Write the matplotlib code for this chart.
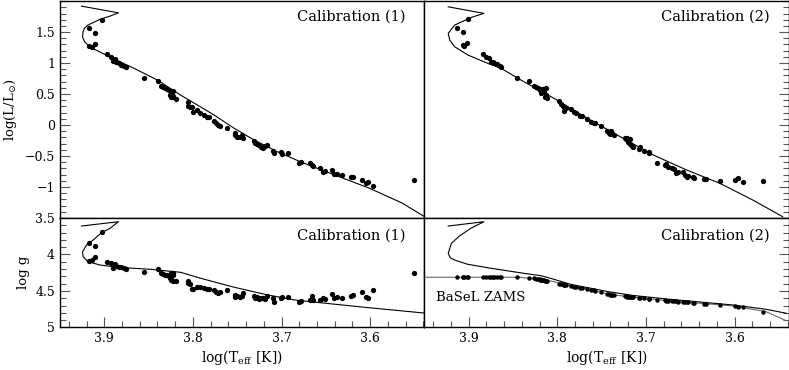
import matplotlib
matplotlib.use('Agg')
import matplotlib.pyplot as plt
import numpy as np

plt.rcParams['font.family'] = ['DejaVu Serif']
plt.rcParams['mathtext.fontset'] = 'dejavuserif'

# --- stars, calibration (1) ---
teff_c1 = [3.917, 3.911, 3.903, 3.917, 3.914, 3.911, 3.897, 3.892, 3.890, 3.888,
           3.887, 3.883, 3.881, 3.878, 3.875, 3.855, 3.839, 3.836, 3.834, 3.831,
           3.829, 3.827, 3.825, 3.825, 3.826, 3.823, 3.822, 3.822, 3.825, 3.819,
           3.806, 3.805, 3.803, 3.801, 3.800, 3.795, 3.792, 3.788, 3.784, 3.782,
           3.776, 3.774, 3.772, 3.769, 3.761, 3.753, 3.752, 3.750, 3.747, 3.745,
           3.744, 3.731, 3.730, 3.728, 3.725, 3.723, 3.721, 3.719, 3.717, 3.710,
           3.709, 3.701, 3.700, 3.693, 3.680, 3.678, 3.668, 3.666, 3.664, 3.657,
           3.653, 3.651, 3.643, 3.641, 3.638, 3.632, 3.622, 3.619, 3.609, 3.605,
           3.603, 3.597, 3.551]
logl_c1 = [1.560, 1.479, 1.694, 1.274, 1.263, 1.302, 1.140, 1.092, 1.032, 1.060,
           1.021, 0.995, 0.968, 0.956, 0.940, 0.763, 0.710, 0.629, 0.608, 0.592,
           0.576, 0.565, 0.537, 0.511, 0.484, 0.468, 0.553, 0.456, 0.447, 0.415,
           0.376, 0.306, 0.295, 0.285, 0.215, 0.242, 0.189, 0.161, 0.124, 0.124,
           0.069, 0.037, 0.000, -0.016, -0.053, -0.124, -0.161, -0.189, -0.198, -0.161,
           -0.215, -0.253, -0.285, -0.306, -0.323, -0.350, -0.376, -0.339, -0.323, -0.415,
           -0.456, -0.431, -0.468, -0.456, -0.608, -0.592, -0.618, -0.645, -0.661, -0.698,
           -0.753, -0.737, -0.726, -0.790, -0.790, -0.806, -0.834, -0.834, -0.887, -0.940,
           -0.915, -0.979, -0.892]
logg_c1 = [3.847, 3.884, 3.688, 4.085, 4.075, 4.030, 4.099, 4.121, 4.189, 4.130,
           4.158, 4.167, 4.175, 4.189, 4.199, 4.236, 4.203, 4.249, 4.267, 4.281,
           4.281, 4.290, 4.304, 4.349, 4.326, 4.359, 4.258, 4.281, 4.258, 4.367,
           4.367, 4.389, 4.404, 4.473, 4.473, 4.441, 4.449, 4.463, 4.473, 4.477,
           4.486, 4.510, 4.523, 4.510, 4.486, 4.555, 4.586, 4.568, 4.586, 4.568,
           4.532, 4.568, 4.600, 4.586, 4.614, 4.600, 4.591, 4.614, 4.568, 4.600,
           4.646, 4.600, 4.586, 4.586, 4.646, 4.633, 4.623, 4.568, 4.623, 4.623,
           4.600, 4.614, 4.541, 4.600, 4.586, 4.600, 4.568, 4.555, 4.510, 4.586,
           4.600, 4.486, 4.258]

# --- stars, calibration (2) ---
teff_c2 = [3.913, 3.906, 3.901, 3.906, 3.905, 3.902, 3.884, 3.880, 3.877, 3.875,
           3.873, 3.871, 3.868, 3.865, 3.863, 3.845, 3.832, 3.826, 3.824, 3.822,
           3.820, 3.819, 3.817, 3.818, 3.815, 3.813, 3.814, 3.811, 3.816, 3.813,
           3.798, 3.796, 3.794, 3.792, 3.792, 3.790, 3.785, 3.781, 3.779, 3.774,
           3.772, 3.766, 3.762, 3.759, 3.757, 3.751, 3.744, 3.742, 3.740, 3.738,
           3.736, 3.739, 3.724, 3.722, 3.720, 3.718, 3.716, 3.714, 3.718, 3.721,
           3.708, 3.707, 3.702, 3.697, 3.696, 3.688, 3.678, 3.677, 3.675, 3.670,
           3.668, 3.666, 3.664, 3.658, 3.656, 3.654, 3.652, 3.647, 3.646, 3.635,
           3.632, 3.616, 3.600, 3.596, 3.590, 3.568]
logl_c2 = [1.569, 1.495, 1.710, 1.290, 1.279, 1.318, 1.145, 1.092, 1.076, 1.021,
           1.021, 0.995, 0.984, 0.952, 0.940, 0.763, 0.715, 0.629, 0.608, 0.592,
           0.576, 0.565, 0.553, 0.511, 0.537, 0.484, 0.456, 0.431, 0.576, 0.592,
           0.387, 0.339, 0.306, 0.295, 0.231, 0.269, 0.253, 0.215, 0.189, 0.145,
           0.145, 0.097, 0.053, 0.027, 0.027, -0.016, -0.092, -0.124, -0.145, -0.124,
           -0.161, -0.092, -0.205, -0.231, -0.269, -0.306, -0.339, -0.360, -0.231, -0.215,
           -0.392, -0.350, -0.415, -0.431, -0.447, -0.618, -0.645, -0.629, -0.673, -0.698,
           -0.715, -0.779, -0.753, -0.753, -0.806, -0.834, -0.823, -0.834, -0.860, -0.876,
           -0.876, -0.903, -0.887, -0.860, -0.915, -0.903]
# logg of the same stars on the BaSeL ZAMS
logg_zams_c2 = [4.312, 4.312, 4.312, 4.312, 4.312, 4.312, 4.312, 4.312, 4.312, 4.312,
                4.312, 4.312, 4.312, 4.312, 4.312, 4.312, 4.320, 4.328, 4.332, 4.336,
                4.340, 4.344, 4.350, 4.348, 4.355, 4.360, 4.358, 4.365, 4.352, 4.360,
                4.400, 4.405, 4.410, 4.415, 4.413, 4.420, 4.430, 4.440, 4.445, 4.455,
                4.460, 4.470, 4.480, 4.490, 4.495, 4.510, 4.540, 4.545, 4.550, 4.553,
                4.556, 4.551, 4.572, 4.575, 4.578, 4.580, 4.583, 4.586, 4.580, 4.577,
                4.594, 4.595, 4.601, 4.607, 4.608, 4.618, 4.630, 4.633, 4.635, 4.640,
                4.641, 4.643, 4.645, 4.651, 4.652, 4.654, 4.656, 4.660, 4.662, 4.672,
                4.675, 4.690, 4.710, 4.715, 4.725, 4.790]

# --- model tracks ---
trk1_teff = [3.9257, 3.884, 3.8935, 3.905, 3.9185, 3.9225, 3.924, 3.9245, 3.922, 3.916,
             3.8935, 3.867, 3.840, 3.814, 3.791, 3.776, 3.754, 3.731, 3.704, 3.678,
             3.640, 3.6015, 3.564, 3.540]
trk1_logl = [1.919, 1.811, 1.758, 1.705, 1.613, 1.56, 1.50, 1.42, 1.339, 1.258,
             1.097, 0.919, 0.726, 0.484, 0.29, 0.161, -0.048, -0.242, -0.435, -0.597,
             -0.806, -1.016, -1.258, -1.468]
trk1g_teff = [3.9257, 3.8841, 3.8935, 3.903, 3.9125, 3.920, 3.9245, 3.9239, 3.9182, 3.9049,
              3.8859, 3.848, 3.814, 3.7913, 3.7534, 3.7155, 3.6853, 3.6398, 3.6018, 3.537]
trk1g_logg = [3.610, 3.551, 3.641, 3.701, 3.801, 3.870, 3.962, 4.030, 4.099, 4.144,
              4.175, 4.203, 4.244, 4.326, 4.449, 4.555, 4.623, 4.682, 4.729, 4.805]

trk2_teff = [3.923, 3.8827, 3.897, 3.9157, 3.923, 3.9213, 3.9157, 3.9007, 3.8783, 3.8633,
             3.8409, 3.8036, 3.7661, 3.7288, 3.6915, 3.654, 3.6166, 3.5794, 3.5457]
trk2_logl = [1.908, 1.802, 1.737, 1.613, 1.479, 1.371, 1.263, 1.129, 0.995, 0.915,
             0.726, 0.431, 0.108, -0.189, -0.484, -0.726, -0.940, -1.21, -1.479]
trk2g_teff = [3.923, 3.8827, 3.897, 3.9104, 3.9194, 3.923, 3.9205, 3.916, 3.9011, 3.8749,
              3.8376, 3.8188, 3.8076, 3.7852, 3.7423, 3.7139, 3.6765, 3.6392, 3.6018, 3.5644,
              3.5419]
trk2g_logg = [3.610, 3.551, 3.637, 3.747, 3.847, 3.984, 4.048, 4.075, 4.134, 4.189,
              4.258, 4.290, 4.326, 4.408, 4.510, 4.562, 4.610, 4.651, 4.692, 4.751,
              4.805]

zams_teff = [3.96, 3.843, 3.8114, 3.7927, 3.7703, 3.7422, 3.7139, 3.6765, 3.6392, 3.6018,
             3.5644, 3.5419]
zams_logg = [4.312, 4.312, 4.35, 4.408, 4.463, 4.545, 4.586, 4.633, 4.668, 4.705,
             4.784, 4.907]

fig, axes = plt.subplots(2, 2, figsize=(7.89, 3.70), dpi=100,
                         gridspec_kw={'height_ratios': [217, 109.5],
                                      'hspace': 0, 'wspace': 0})
fig.subplots_adjust(left=0.076, right=0.9995, top=0.997, bottom=0.115)

lw = 0.8
ms = 3.8

for col in range(2):
    ax_t = axes[0, col]
    ax_b = axes[1, col]
    if col == 0:
        ax_t.plot(trk1_teff, trk1_logl, color='black', lw=lw)
        ax_t.plot(teff_c1, logl_c1, 'o', color='black', ms=ms, mec='none')
        ax_b.plot(trk1g_teff, trk1g_logg, color='black', lw=lw)
        ax_b.plot(teff_c1, logg_c1, 'o', color='black', ms=ms, mec='none')
    else:
        ax_t.plot(trk2_teff, trk2_logl, color='black', lw=lw)
        ax_t.plot(teff_c2, logl_c2, 'o', color='black', ms=ms, mec='none')
        ax_b.plot(zams_teff, zams_logg, color='#666666', lw=lw)
        ax_b.plot(trk2g_teff, trk2g_logg, color='black', lw=lw)
        ax_b.plot(teff_c2, logg_zams_c2, 'o', color='black', ms=3.2, mec='none')
        ax_b.text(0.032, 0.27, 'BaSeL ZAMS', transform=ax_b.transAxes,
                  fontsize=9.5, va='center', ha='left')

    label = 'Calibration (%d)' % (col + 1)
    ax_t.text(0.948, 0.93, label, transform=ax_t.transAxes,
              fontsize=10.5, ha='right', va='center')
    ax_b.text(0.948, 0.835, label, transform=ax_b.transAxes,
              fontsize=10.5, ha='right', va='center')

    for ax in (ax_t, ax_b):
        ax.set_xlim(3.95, 3.539)
        ax.set_xticks([3.9, 3.8, 3.7, 3.6])
        ax.xaxis.set_minor_locator(plt.MultipleLocator(0.02))
        ax.tick_params(which='both', direction='in', top=False,
                       left=(col == 0), right=(col == 1), labelsize=9,
                       width=0.8, color='#555555')
        ax.tick_params(which='major', length=7)
        ax.tick_params(which='minor', length=4)
        for s in ax.spines.values():
            s.set_linewidth(1.0)

    ax_t.set_ylim(-1.5, 2.0)
    ax_t.set_yticks([-1, -0.5, 0, 0.5, 1, 1.5])
    ax_t.set_yticklabels(['\u22121', '\u22120.5', '0', '0.5', '1', '1.5'])
    ax_t.yaxis.set_minor_locator(plt.MultipleLocator(0.1))
    ax_t.tick_params(which='both', bottom=False, labelbottom=False)

    ax_b.set_ylim(5.0, 3.5)
    ax_b.set_yticks([3.5, 4, 4.5, 5])
    ax_b.set_yticklabels(['3.5', '4', '4.5', '5'])
    ax_b.yaxis.set_minor_locator(plt.MultipleLocator(0.1))
    ax_b.set_xticklabels(['3.9', '3.8', '3.7', '3.6'])
    ax_b.set_xlabel(r'log(T$_{\rm eff}$ [K])', fontsize=10, labelpad=2)

    if col == 1:
        ax_t.tick_params(labelleft=False)
        ax_b.tick_params(labelleft=False)

axes[0, 0].set_ylabel(r'log(L/L$_{\odot}$)', fontsize=9.5, labelpad=4)
axes[1, 0].set_ylabel('log g', fontsize=9.5, labelpad=4)

fig.savefig('out.png', dpi=100)
